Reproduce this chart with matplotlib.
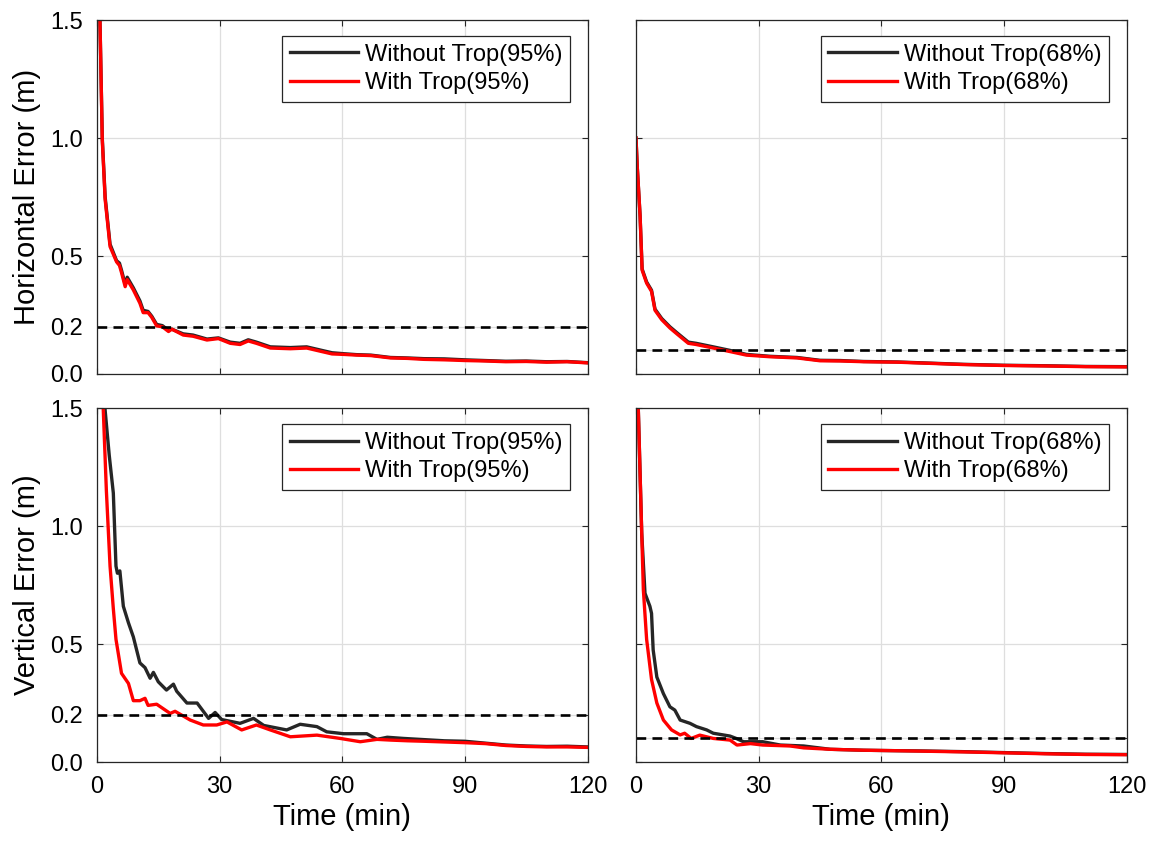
import numpy as np
import matplotlib
matplotlib.use('Agg')
import matplotlib.pyplot as plt

plt.rcParams['font.family'] = ['Liberation Sans', 'DejaVu Sans']
plt.rcParams['lines.scale_dashes'] = False

# horizontal, 95% (left top)
h95_t = [0.3, 0.73, 1.3, 2.0, 3.2, 4.8, 5.5, 6.0, 6.9, 7.4, 8.9, 10.5, 11.3, 12.5, 13.4, 14.6, 16, 17.5,
         18.3, 21.1, 23.5, 26.9, 29.7, 32.6, 35, 37, 39, 42.4, 47.3, 51.3, 55, 57.5, 60.3, 63.5, 67, 71.8,
         76, 80, 85, 90, 95, 100, 105, 110, 115, 120]
h95_with = [1.7, 1.5, 0.99, 0.74, 0.54, 0.475, 0.46, 0.43, 0.37, 0.40, 0.356, 0.30, 0.26, 0.26, 0.24, 0.204,
            0.2, 0.18, 0.19, 0.165, 0.16, 0.144, 0.15, 0.13, 0.125, 0.14, 0.13, 0.11, 0.107, 0.11, 0.095,
            0.085, 0.083, 0.08, 0.078, 0.068, 0.066, 0.062, 0.06, 0.057, 0.055, 0.052, 0.053, 0.05, 0.052, 0.047]
h95_without = [1.7, 1.5, 1.0, 0.75, 0.55, 0.48, 0.47, 0.44, 0.38, 0.41, 0.365, 0.31, 0.27, 0.265, 0.245, 0.21,
               0.205, 0.185, 0.19, 0.17, 0.165, 0.148, 0.153, 0.135, 0.13, 0.145, 0.135, 0.115, 0.112, 0.115,
               0.1, 0.09, 0.086, 0.082, 0.08, 0.07, 0.068, 0.065, 0.064, 0.06, 0.057, 0.054, 0.055, 0.052,
               0.053, 0.048]

# horizontal, 68% (right top)
h68_t = [0, 0.3, 1.0, 1.5, 2.6, 3.8, 4.65, 6.3, 8.3, 10, 12.8, 14.7, 18.9, 23, 27, 32.8, 39.4, 45, 50,
         55.7, 63.9, 72, 80, 90, 100, 110, 120]
h68_with = [1.0, 0.88, 0.67, 0.44, 0.385, 0.35, 0.27, 0.23, 0.195, 0.17, 0.13, 0.125, 0.11, 0.095, 0.08,
            0.073, 0.068, 0.056, 0.055, 0.052, 0.05, 0.045, 0.04, 0.036, 0.034, 0.031, 0.03]
h68_without = [1.0, 0.88, 0.67, 0.445, 0.39, 0.355, 0.275, 0.235, 0.2, 0.175, 0.135, 0.13, 0.115, 0.1,
               0.083, 0.075, 0.07, 0.058, 0.057, 0.053, 0.051, 0.046, 0.041, 0.037, 0.035, 0.032, 0.031]

# vertical, 95% (left bottom)
v95_t_without = [1.5, 2.0, 3.0, 4.0, 4.65, 5.0, 5.6, 6.45, 7.7, 8.9, 10.5, 11.75, 13, 13.8, 15, 17, 18.7,
                 19.5, 22, 24.5, 27.3, 28.9, 30.5, 35, 38.3, 40.8, 46.4, 49.7, 53.8, 56.2, 60.3, 66, 68.5,
                 71, 75, 80, 85, 90, 95, 100, 105, 110, 115, 120]
v95_without = [1.7, 1.49, 1.3, 1.14, 0.83, 0.8, 0.81, 0.66, 0.59, 0.53, 0.42, 0.40, 0.355, 0.38, 0.34,
               0.305, 0.33, 0.30, 0.25, 0.25, 0.185, 0.21, 0.18, 0.164, 0.185, 0.155, 0.136, 0.16, 0.15,
               0.128, 0.12, 0.12, 0.096, 0.105, 0.1, 0.095, 0.09, 0.088, 0.08, 0.072, 0.068, 0.066, 0.067, 0.064]
v95_t_with = [1.0, 1.55, 2.3, 3.2, 4.0, 4.65, 6.0, 7.7, 8.9, 10.5, 11.75, 12.5, 14.6, 17.9, 19.1, 22.8, 26,
              29.3, 31.8, 35.4, 39, 42.4, 47.3, 53.8, 59.5, 64.4, 68.5, 71.8, 76, 80, 85, 90, 95, 100,
              105, 110, 115, 120]
v95_with = [1.7, 1.49, 1.15, 0.83, 0.65, 0.52, 0.376, 0.333, 0.26, 0.26, 0.27, 0.24, 0.245, 0.206, 0.215,
            0.178, 0.157, 0.157, 0.17, 0.136, 0.157, 0.136, 0.107, 0.114, 0.10, 0.086, 0.096, 0.093, 0.09,
            0.088, 0.085, 0.082, 0.078, 0.07, 0.066, 0.064, 0.064, 0.062]

# vertical, 68% (right bottom)
v68_t_without = [0, 0.57, 1.4, 2.2, 3.4, 3.8, 4.2, 5.1, 6.7, 8.3, 9.5, 10.8, 13.2, 14.8, 17.3, 18.9, 23,
                 24.5, 26.3, 31, 35.3, 41, 47.5, 55.6, 63.8, 70, 80, 90, 100, 110, 120]
v68_without = [1.7, 1.49, 0.97, 0.715, 0.66, 0.63, 0.475, 0.36, 0.29, 0.234, 0.22, 0.178, 0.164, 0.15,
               0.136, 0.122, 0.11, 0.10, 0.086, 0.086, 0.072, 0.068, 0.054, 0.05, 0.048, 0.047, 0.044,
               0.04, 0.036, 0.033, 0.032]
v68_t_with = [0, 0.57, 1.4, 1.8, 2.6, 3.8, 5.1, 6.7, 8.7, 10.8, 11.9, 13.5, 15.6, 18.9, 23, 24.7, 28, 31,
              37.7, 41, 47.5, 55.6, 63.8, 70, 80, 90, 100, 110, 120]
v68_with = [1.7, 1.49, 0.97, 0.73, 0.52, 0.35, 0.25, 0.178, 0.136, 0.115, 0.122, 0.10, 0.114, 0.10, 0.093,
            0.072, 0.078, 0.072, 0.068, 0.06, 0.054, 0.05, 0.048, 0.046, 0.043, 0.039, 0.035, 0.032, 0.031]

xticks = [0, 30, 60, 90, 120]
yticks = [0.0, 0.2, 0.5, 1.0, 1.5]
yticks_r = [0.0, 0.1, 0.5, 1.0, 1.5]

fig = plt.figure(figsize=(11.53, 8.41), dpi=100)
lefts = [0.0841, 0.5516]
bottoms = [0.5553, 0.0939]
w, h = 0.4255, 0.4209

panels = [
    (0, 0, h95_t, h95_without, h95_t, h95_with, 0.2, '95%'),
    (0, 1, h68_t, h68_without, h68_t, h68_with, 0.1, '68%'),
    (1, 0, v95_t_without, v95_without, v95_t_with, v95_with, 0.2, '95%'),
    (1, 1, v68_t_without, v68_without, v68_t_with, v68_with, 0.1, '68%'),
]

for row, col, tb, yb, tr, yr, thr, pct in panels:
    ax = fig.add_axes([lefts[col], bottoms[row], w, h])
    ax.plot(tb, yb, color='#262626', lw=2.4, label='Without Trop(%s)' % pct)
    ax.plot(tr, yr, color='#ff0000', lw=2.4, label='With Trop(%s)' % pct)
    ax.axhline(thr, color='black', lw=1.9, dashes=(7, 4.5))
    ax.set_xlim(0, 120)
    ax.set_ylim(0, 1.5)
    ax.set_xticks(xticks)
    ax.set_yticks(yticks if col == 0 else yticks_r)
    ax.grid(True, color='#dedede', lw=0.9)
    ax.set_axisbelow(True)
    ax.tick_params(direction='in', top=True, right=True, length=4, width=0.8,
                   labelsize=17, pad=10, colors='#262626', labelcolor='black')
    for s in ax.spines.values():
        s.set_color('#262626')
        s.set_linewidth(0.9)
    if col == 0:
        ax.set_yticklabels(['%.1f' % v for v in yticks])
        ax.set_ylabel('Horizontal Error (m)' if row == 0 else 'Vertical Error (m)', fontsize=21, labelpad=7)
    else:
        ax.set_yticklabels([])
    if row == 1:
        ax.set_xticklabels([str(v) for v in xticks])
        ax.set_xlabel('Time (min)', fontsize=21, labelpad=4)
    else:
        ax.set_xticklabels([])
    leg = ax.legend(loc='upper right', bbox_to_anchor=(0.965, 0.955), fontsize=17,
                    handlelength=2.9, handletextpad=0.3, labelspacing=0.27, borderpad=0.33,
                    borderaxespad=0, fancybox=False, framealpha=1)
    leg.get_frame().set_edgecolor('#262626')
    leg.get_frame().set_linewidth(0.9)

plt.savefig('out.png', dpi=100)
